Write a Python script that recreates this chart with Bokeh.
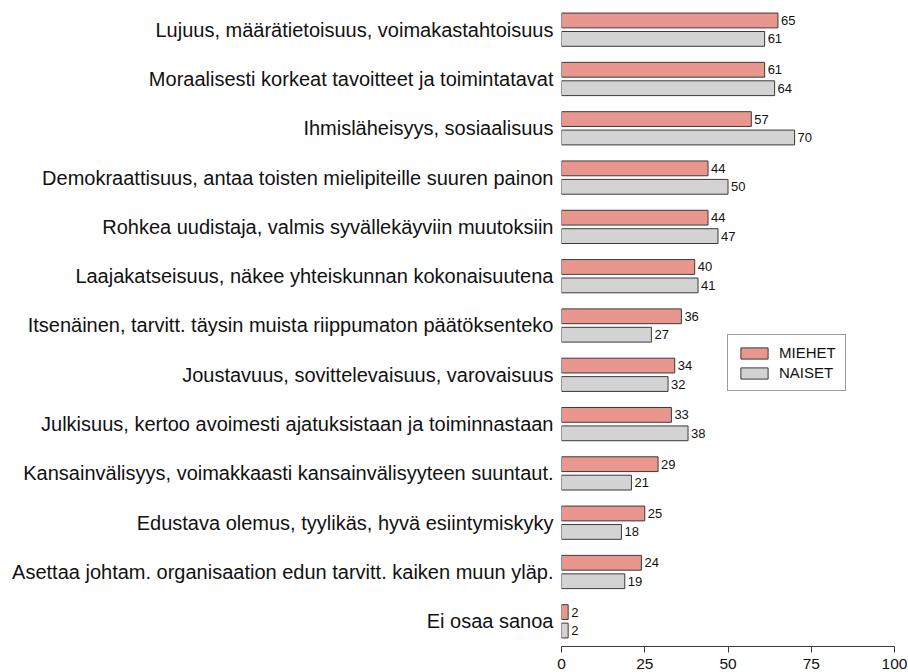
from bokeh.plotting import figure
from bokeh.models import ColumnDataSource, Range1d, FixedTicker, Legend, LegendItem
from bokeh.transform import dodge
from bokeh.core.properties import value
from bokeh.embed import file_html
from bokeh.resources import INLINE

categories = [
    "Lujuus, määrätietoisuus, voimakastahtoisuus",
    "Moraalisesti korkeat tavoitteet ja toimintatavat",
    "Ihmisläheisyys, sosiaalisuus",
    "Demokraattisuus, antaa toisten mielipiteille suuren painon",
    "Rohkea uudistaja, valmis syvällekäyviin muutoksiin",
    "Laajakatseisuus, näkee yhteiskunnan kokonaisuutena",
    "Itsenäinen, tarvitt. täysin muista riippumaton päätöksenteko",
    "Joustavuus, sovittelevaisuus, varovaisuus",
    "Julkisuus, kertoo avoimesti ajatuksistaan ja toiminnastaan",
    "Kansainvälisyys, voimakkaasti kansainvälisyyteen suuntaut.",
    "Edustava olemus, tyylikäs, hyvä esiintymiskyky",
    "Asettaa johtam. organisaation edun tarvitt. kaiken muun yläp.",
    "Ei osaa sanoa",
]
miehet = [65, 61, 57, 44, 44, 40, 36, 34, 33, 29, 25, 24, 2]
naiset = [61, 64, 70, 50, 47, 41, 27, 32, 38, 21, 18, 19, 2]
series_names = ["MIEHET", "NAISET"]
x_ticks = [0, 25, 50, 75, 100]

FONT = "Liberation Sans"
RED = "#E9968F"
GREY = "#D3D3D3"
EDGE = "#3a3a3a"

ypos = list(range(len(categories)))
src = ColumnDataSource(dict(
    y=ypos, m=miehet, n=naiset,
    ml=[str(v) for v in miehet], nl=[str(v) for v in naiset],
))

p = figure(width=908, height=672, output_backend="svg", toolbar_location=None,
           x_range=Range1d(0, 100), y_range=Range1d(12.511, -0.592),
           min_border_left=561, min_border_right=14, min_border_top=0, min_border_bottom=26)
p.outline_line_color = None
p.xgrid.grid_line_color = None
p.ygrid.grid_line_color = None

off = 0.187
bh = 0.30
r1 = p.hbar(y=dodge("y", -off), right="m", left=0, height=bh, source=src,
            fill_color=RED, line_color=EDGE, line_width=1)
r2 = p.hbar(y=dodge("y", off), right="n", left=0, height=bh, source=src,
            fill_color=GREY, line_color=EDGE, line_width=1)
p.text(x="m", y=dodge("y", -off), text="ml", source=src, x_offset=3,
       text_baseline="middle", text_align="left", text_font_size="13px",
       text_font=value(FONT), text_color="#111111")
p.text(x="n", y=dodge("y", off), text="nl", source=src, x_offset=3,
       text_baseline="middle", text_align="left", text_font_size="13px",
       text_font=value(FONT), text_color="#111111")

# y axis: category labels
p.yaxis.ticker = FixedTicker(ticks=ypos)
p.yaxis.major_label_overrides = {i: c for i, c in zip(ypos, categories)}
p.yaxis.axis_line_color = None
p.yaxis.major_tick_line_color = None
p.yaxis.minor_tick_line_color = None
p.yaxis.major_tick_out = 0
p.yaxis.major_label_standoff = 8
p.yaxis.major_label_text_font = FONT
p.yaxis.major_label_text_font_size = "20px"
p.yaxis.major_label_text_color = "#111111"

# x axis
p.xaxis.ticker = FixedTicker(ticks=x_ticks)
p.xaxis.axis_line_color = EDGE
p.xaxis.major_tick_line_color = EDGE
p.xaxis.major_tick_out = 6
p.xaxis.major_tick_in = 0
p.xaxis.minor_tick_line_color = None
p.xaxis.major_label_standoff = 6
p.xaxis.major_label_text_font = FONT
p.xaxis.major_label_text_font_size = "15.5px"
p.xaxis.major_label_text_color = "#111111"

legend = Legend(items=[LegendItem(label=series_names[0], renderers=[r1]),
                       LegendItem(label=series_names[1], renderers=[r2])],
                location=(166, 255), padding=9, spacing=3, margin=0,
                glyph_width=34, glyph_height=14, label_height=14,
                label_standoff=8, label_text_font=FONT, label_text_font_size="15px",
                label_text_color="#111111", border_line_color=EDGE,
                border_line_width=1, background_fill_alpha=1)
p.add_layout(legend, "center")

open("out.html", "w").write(file_html(p, INLINE))
